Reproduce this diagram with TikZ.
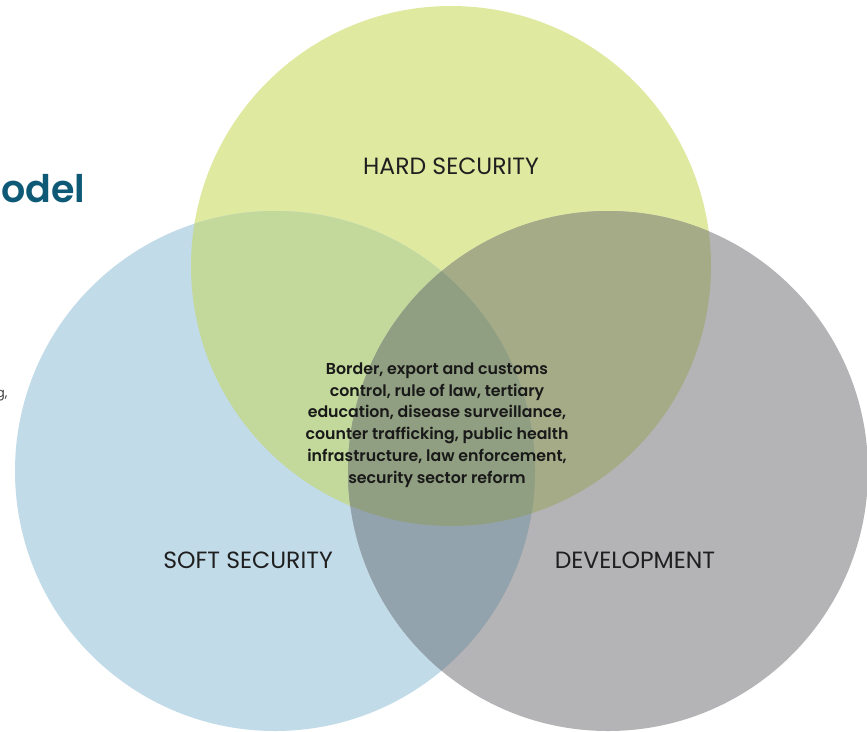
\documentclass[tikz,border=0pt]{standalone}
\usepackage{fontspec}
\setmainfont{Poppins}
\newfontfamily\medfont{Poppins SemiBold}
\usepackage{tikz}
\usetikzlibrary{positioning}
\definecolor{hardcol}{RGB}{223,233,160}
\definecolor{softcol}{RGB}{194,219,233}
\definecolor{devcol}{RGB}{180,180,182}
\definecolor{hardsoftcol}{RGB}{194,217,155}
\definecolor{harddevcol}{RGB}{165,171,135}
\definecolor{softdevcol}{RGB}{147,163,173}
\definecolor{allcol}{RGB}{144,159,129}
\definecolor{modelcol}{RGB}{14,90,118}
\tikzset{circlabel/.style={font=\fontsize{23.5}{27}\selectfont, text=black!88}}
\tikzset{sidetext/.style={anchor=base east, font=\fontsize{13}{15}\selectfont, text=black!75}}

\begin{document}
\begin{tikzpicture}[x=1pt,y=-1pt]
  \useasboundingbox (0,0) rectangle (867,731);
  \clip (0,0) rectangle (867,731);
  \def\rad{260}
  \coordinate (hard) at (451,266);
  \coordinate (soft) at (275,471);
  \coordinate (dev) at (608,471);
  % circles
  \fill[hardcol] (hard) circle (\rad);
  \fill[softcol] (soft) circle (\rad);
  \fill[devcol] (dev) circle (\rad);
  \begin{scope}
    \clip (hard) circle (\rad);
    \fill[hardsoftcol] (soft) circle (\rad);
    \fill[harddevcol] (dev) circle (\rad);
  \end{scope}
  \begin{scope}
    \clip (soft) circle (\rad);
    \fill[softdevcol] (dev) circle (\rad);
    \clip (hard) circle (\rad);
    \fill[allcol] (dev) circle (\rad);
  \end{scope}
  % labels
  \node[circlabel] at (451,166) (hardlab) {HARD SECURITY};
  \node[circlabel] at (248,560) (softlab) {SOFT SECURITY};
  \node[circlabel] at (635,560) (devlab) {DEVELOPMENT};
  \node[align=center, text=black!90, font=\fontsize{15.8}{21.8}\medfont] at (437,425) (core)
  {
    Border, export and customs\\
    control, rule of law, tertiary\\
    education, disease surveillance,\\
    counter trafficking, public health\\
    infrastructure, law enforcement,\\
    security sector reform
  };
  % cut-off page text on the left
  \node[anchor=base east, text=modelcol, font=\fontsize{38}{42}\medfont] at (89,202) (model) {Model};
  \node[sidetext] at (3,287) (commaone) {,};
  \node[sidetext] at (11,397) (commatwo) {g,};
\end{tikzpicture}
\end{document}
